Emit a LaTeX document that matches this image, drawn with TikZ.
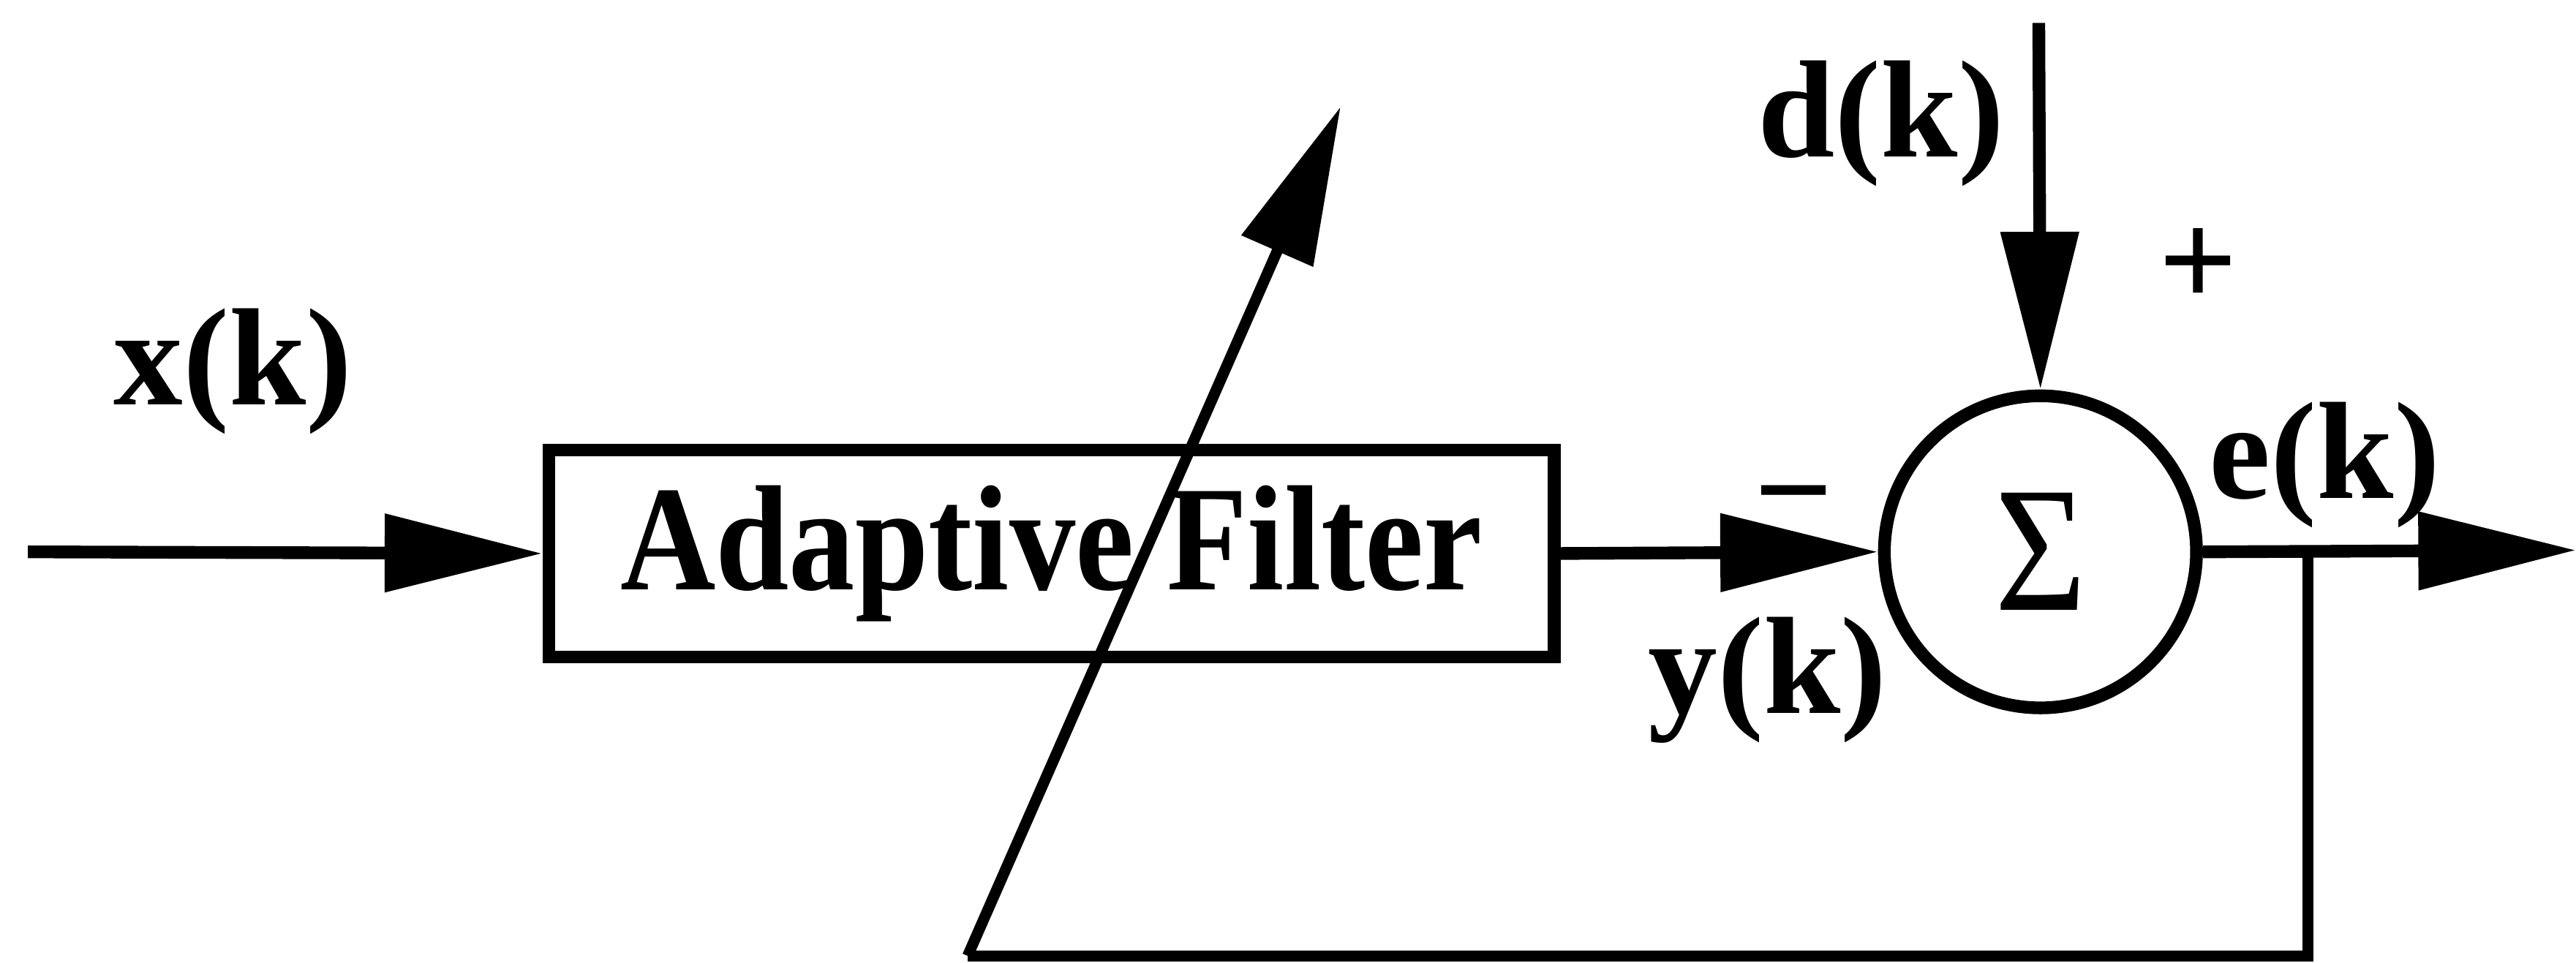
\documentclass[tikz,border=0pt]{standalone}
\usepackage{fontspec}
\setmainfont{Liberation Serif}
\newfontfamily\blockfont[FakeStretch=0.88]{Liberation Serif}
\usetikzlibrary{arrows.meta}

\begin{document}
\begin{tikzpicture}[x=0.1mm,y=-0.1mm,line width=2.2pt,
  sig/.style={-{Triangle[length=9.6mm,width=4.6mm]}},
  lbl/.style={inner sep=0pt, font=\fontsize{24}{24}\selectfont\bfseries},
  block/.style={draw, line width=2.2pt, minimum width=61.2mm, minimum height=12.6mm, inner sep=0pt, font=\fontsize{26}{26}\selectfont\blockfont\bfseries},
  sumnode/.style={draw, circle, minimum size=19mm, inner sep=0pt, font=\fontsize{31}{31}\selectfont\blockfont}]
\useasboundingbox (0,0) rectangle (1568,586);
% blocks
\node[block] (filt) at (640,337) {Adaptive Filter};
\node[sumnode] (sum) at (1242,336) {Σ};
% free ends
\coordinate (xin) at (17,336);
\coordinate (dsrc) at (1241,14);
\coordinate (eout) at (1568,335);
\coordinate (tap) at (1405,335);
\coordinate (fbr) at (1405,582);
\coordinate (fbl) at (589,582);
\coordinate (adj) at (816,65);
% signals
\draw[sig] (xin) -- (filt.west);
\draw[sig] (filt.east) -- (sum.west);
\draw[sig] (dsrc) -- (sum.north);
\draw[sig] (sum.east) -- (eout);
% error feedback
\draw[line width=1.9pt] (tap) -- (fbr) -- (fbl);
\draw[sig,line width=1.9pt] (fbl) -- (adj);
% labels
\node[lbl] (xlbl) at (142,226) {x(k)};
\node[lbl] (dlbl) at (1145,75) {d(k)};
\node[lbl] (ylbl) at (1076,414) {y(k)};
\node[lbl] (elbl) at (1415,283) {e(k)};
\node[lbl] (plus) at (1338,163) {+};
\node[lbl] (minus) at (1092,311) {−};
\end{tikzpicture}
\end{document}
